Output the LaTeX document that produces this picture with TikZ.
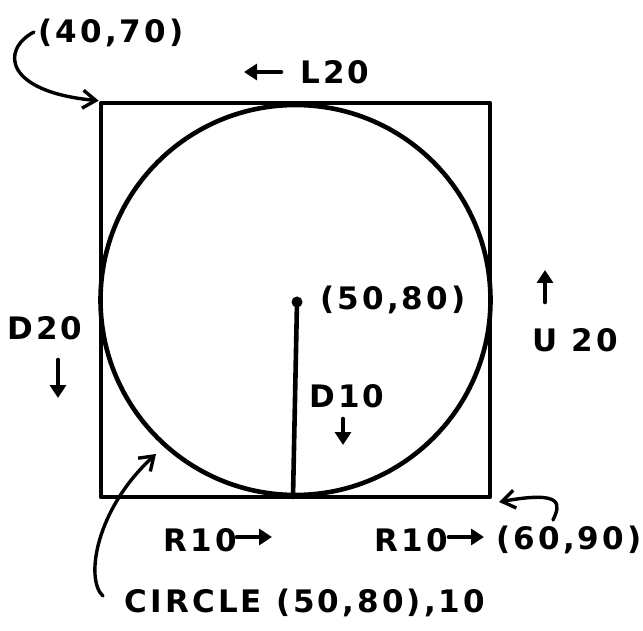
\documentclass[tikz,border=0pt]{standalone}
\usepackage{fontspec}
\setmainfont{DejaVu Sans}[LetterSpace=10]
\usetikzlibrary{arrows.meta}
\begin{document}
\begin{tikzpicture}[x=1pt,y=-1pt,
  ink/.style={line width=4.6pt,line cap=round,line join=round},
  lbl/.style={font=\fontsize{31}{36}\selectfont\bfseries,inner sep=0pt},
  tip/.style={-{Triangle[length=13pt,width=16pt]}},
  note/.style={line width=3.4pt,line cap=round,-{Straight Barb[length=13pt,width=18pt]}}]
\useasboundingbox (0,0) rectangle (643,631);
% square and circle
\node[ink,draw,rectangle,minimum width=389pt,minimum height=394pt,inner sep=0pt] (sq) at (295.5,300) {};
\node[ink,draw,circle,minimum size=390pt,inner sep=0pt] (ci) at (295.5,300) {};
\coordinate (ctr) at (297,302);
\coordinate (bot) at (293,497);
\fill (ctr) circle (5.5pt);
\draw[ink] (ctr) -- (bot);
% labels
\node[lbl] (p1) at (111,33) {(40,70)};
\node[lbl] (l20) at (335,72) {L20};
\node[lbl] (d20) at (45,328) {D20};
\node[lbl] (u20) at (575,340) {U 20};
\node[lbl] (p2) at (393,300) {(50,80)};
\node[lbl] (d10) at (347,396) {D10};
\node[lbl] (r1) at (200,540) {R10};
\node[lbl] (r2) at (411,540) {R10};
\node[lbl] (p3) at (569,540) {(60,90)};
\node[lbl] (cap) at (305,603) {CIRCLE (50,80),10};
% small direction arrows
\coordinate (a1s) at (281,72); \coordinate (a1e) at (244,72);
\draw[ink,tip] (a1s) -- (a1e);
\coordinate (a2s) at (58,360); \coordinate (a2e) at (58,398);
\draw[ink,tip] (a2s) -- (a2e);
\coordinate (a3s) at (545,302); \coordinate (a3e) at (545,270);
\draw[ink,tip] (a3s) -- (a3e);
\coordinate (a4s) at (343,419); \coordinate (a4e) at (343,445);
\draw[ink,tip] (a4s) -- (a4e);
\coordinate (a5s) at (237,537); \coordinate (a5e) at (272,537);
\draw[ink,tip] (a5s) -- (a5e);
\coordinate (a6s) at (449,537); \coordinate (a6e) at (484,537);
\draw[ink,tip] (a6s) -- (a6e);
% curved pointer arrows
\coordinate (q1) at (34,32);
\draw[note] (q1) .. controls (0,50) and (5,92) .. (sq.north west);
\coordinate (q3) at (553,520); \coordinate (q3t) at (499,502);
\draw[note] (q3) .. controls (560,505) and (565,490) .. (q3t);
\coordinate (q2) at (103,596); \coordinate (q2t) at (156,454);
\draw[note] (q2) .. controls (85,580) and (95,510) .. (q2t);
\end{tikzpicture}
\end{document}
